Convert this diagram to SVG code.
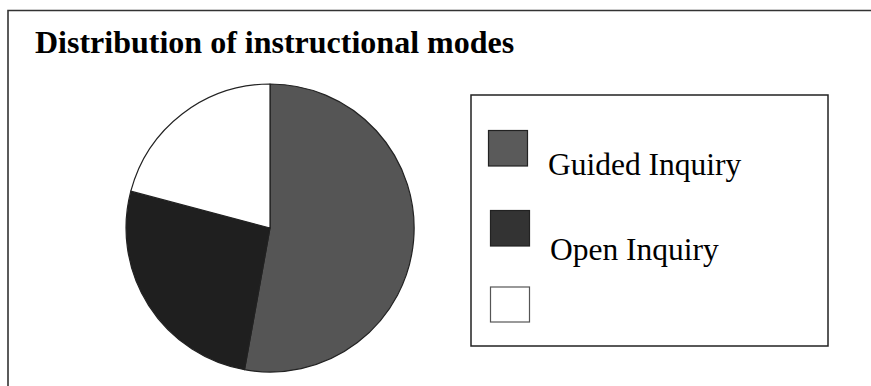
<svg xmlns="http://www.w3.org/2000/svg" width="871" height="386" viewBox="0 0 871 386">
<style>
.title{font-family:"Liberation Serif","Times New Roman",serif;font-weight:bold;font-size:32px;fill:#000}
.lbl{font-family:"Liberation Serif","Times New Roman",serif;font-size:31.5px;fill:#000}
.slice{stroke:#222;stroke-width:1.2;stroke-linejoin:round}
.sw{stroke:#222;stroke-width:1.2}
</style>
<rect x="0" y="0" width="871" height="386" fill="#fff"/>
<path d="M8,386 V10.5 H871" fill="none" stroke="#333" stroke-width="1.6"/>
<g id="title"><text class="title" x="35" y="53">Distribution of instructional modes</text></g>
<g id="pie">
<path id="slice-guided" class="slice" fill="#555555" d="M270,228 L270,84 A144,144 0 1 1 244.5,369.7 Z"/>
<path id="slice-open" class="slice" fill="#1f1f1f" d="M270,228 L244.5,369.7 A144,144 0 0 1 130.8,191.2 Z"/>
<path id="slice-other" class="slice" fill="#ffffff" d="M270,228 L130.8,191.2 A144,144 0 0 1 270,84 Z"/>
</g>
<g id="legend">
<rect x="471" y="95" width="357" height="251" fill="#fff" stroke="#222" stroke-width="1.5"/>
<g id="legend-guided">
<rect class="sw" x="488.5" y="130.5" width="39" height="35.5" fill="#5a5a5a"/>
<text class="lbl" x="548" y="175">Guided Inquiry</text>
</g>
<g id="legend-open">
<rect class="sw" x="490.5" y="210.5" width="39" height="35.5" fill="#333333"/>
<text class="lbl" x="550" y="260">Open Inquiry</text>
</g>
<g id="legend-other">
<rect x="490.5" y="287" width="39" height="35" fill="#fff" stroke="#555" stroke-width="1.2"/>
</g>
</g>
</svg>
